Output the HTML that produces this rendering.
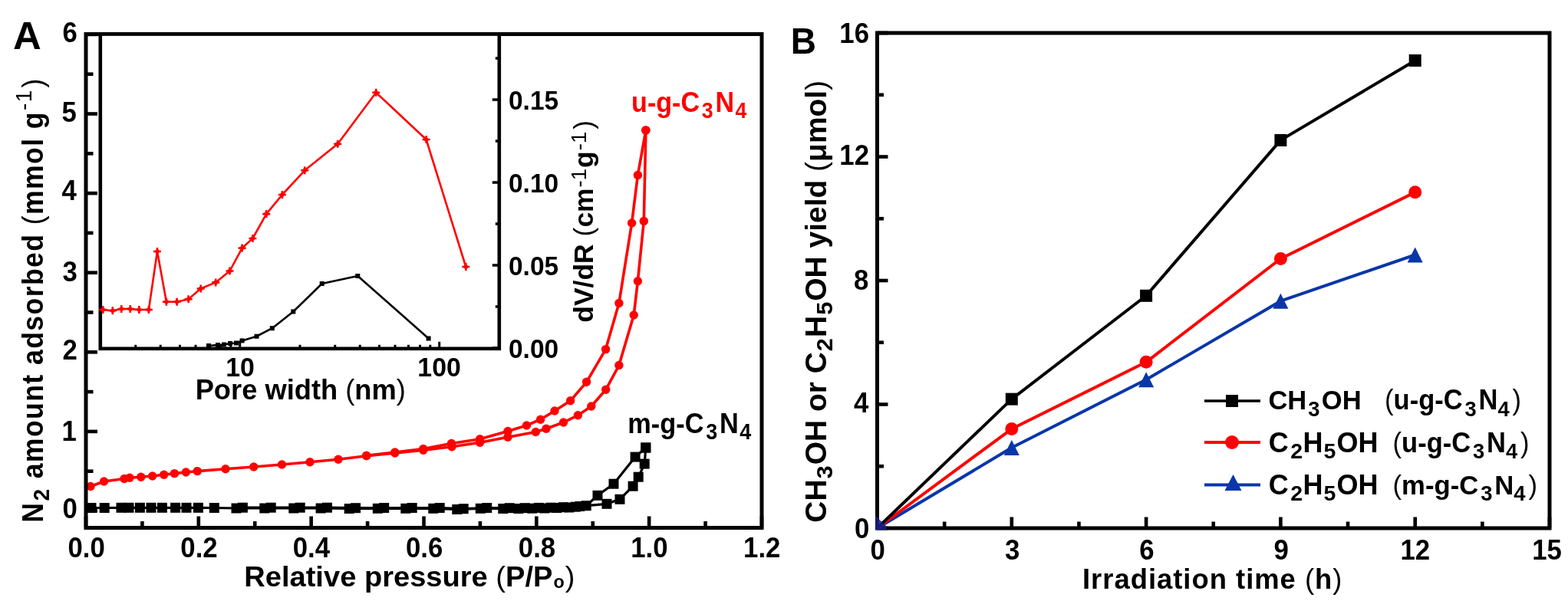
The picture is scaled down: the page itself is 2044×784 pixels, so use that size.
<!DOCTYPE html><html><head><meta charset="utf-8"><title>Figure</title><style>html,body{margin:0;padding:0;background:#fff;width:2044px;height:784px;overflow:hidden}svg{display:block}</style></head><body>
<svg width="2044" height="784" viewBox="0 0 2044 784" font-family='"Liberation Sans", Arial, Helvetica, sans-serif'>
<rect width="2044" height="784" fill="#fff"/>
<polyline points="118,634.5 135.6,628 162,624.5 169,623.3 183.8,622.2 198.7,621 213.7,619.2 227.4,617.6 242.4,616 257.3,614.6 294,611.8 330.8,609 367.5,606 404,602.7 441,599.2 477.7,594.8 514.8,591 551.8,587.2 589,582.8 625.6,577.2 662,570.2 698.3,563.5 712,559.2 734.5,551 753.3,541.8 770.8,530 789.7,508.3 806.9,476.5 826.2,411 831.4,366.8 839.3,288.4 841.9,169.9" fill="none" stroke="#ff0000" stroke-width="3.6" stroke-linejoin="round"/>
<polyline points="841.9,169.9 831.4,228.4 823.6,291 806.9,395.5 789.6,455.6 764.6,498.3 743.6,522.8 723,536 704.6,547.2 686.5,555 662,562.5 625.6,572.8 588.5,578.5 551.8,585.5 514.8,590 477.7,594.2" fill="none" stroke="#ff0000" stroke-width="3.6" stroke-linejoin="round"/>
<circle cx="118" cy="634.5" r="5.7" fill="#ff0000"/>
<circle cx="135.6" cy="628" r="5.7" fill="#ff0000"/>
<circle cx="162" cy="624.5" r="5.7" fill="#ff0000"/>
<circle cx="169" cy="623.3" r="5.7" fill="#ff0000"/>
<circle cx="183.8" cy="622.2" r="5.7" fill="#ff0000"/>
<circle cx="198.7" cy="621" r="5.7" fill="#ff0000"/>
<circle cx="213.7" cy="619.2" r="5.7" fill="#ff0000"/>
<circle cx="227.4" cy="617.6" r="5.7" fill="#ff0000"/>
<circle cx="242.4" cy="616" r="5.7" fill="#ff0000"/>
<circle cx="257.3" cy="614.6" r="5.7" fill="#ff0000"/>
<circle cx="294" cy="611.8" r="5.7" fill="#ff0000"/>
<circle cx="330.8" cy="609" r="5.7" fill="#ff0000"/>
<circle cx="367.5" cy="606" r="5.7" fill="#ff0000"/>
<circle cx="404" cy="602.7" r="5.7" fill="#ff0000"/>
<circle cx="441" cy="599.2" r="5.7" fill="#ff0000"/>
<circle cx="477.7" cy="594.8" r="5.7" fill="#ff0000"/>
<circle cx="514.8" cy="591" r="5.7" fill="#ff0000"/>
<circle cx="551.8" cy="587.2" r="5.7" fill="#ff0000"/>
<circle cx="589" cy="582.8" r="5.7" fill="#ff0000"/>
<circle cx="625.6" cy="577.2" r="5.7" fill="#ff0000"/>
<circle cx="662" cy="570.2" r="5.7" fill="#ff0000"/>
<circle cx="698.3" cy="563.5" r="5.7" fill="#ff0000"/>
<circle cx="712" cy="559.2" r="5.7" fill="#ff0000"/>
<circle cx="734.5" cy="551" r="5.7" fill="#ff0000"/>
<circle cx="753.3" cy="541.8" r="5.7" fill="#ff0000"/>
<circle cx="770.8" cy="530" r="5.7" fill="#ff0000"/>
<circle cx="789.7" cy="508.3" r="5.7" fill="#ff0000"/>
<circle cx="806.9" cy="476.5" r="5.7" fill="#ff0000"/>
<circle cx="826.2" cy="411" r="5.7" fill="#ff0000"/>
<circle cx="831.4" cy="366.8" r="5.7" fill="#ff0000"/>
<circle cx="839.3" cy="288.4" r="5.7" fill="#ff0000"/>
<circle cx="841.9" cy="169.9" r="5.7" fill="#ff0000"/>
<circle cx="841.9" cy="169.9" r="5.7" fill="#ff0000"/>
<circle cx="831.4" cy="228.4" r="5.7" fill="#ff0000"/>
<circle cx="823.6" cy="291" r="5.7" fill="#ff0000"/>
<circle cx="806.9" cy="395.5" r="5.7" fill="#ff0000"/>
<circle cx="789.6" cy="455.6" r="5.7" fill="#ff0000"/>
<circle cx="764.6" cy="498.3" r="5.7" fill="#ff0000"/>
<circle cx="743.6" cy="522.8" r="5.7" fill="#ff0000"/>
<circle cx="723" cy="536" r="5.7" fill="#ff0000"/>
<circle cx="704.6" cy="547.2" r="5.7" fill="#ff0000"/>
<circle cx="686.5" cy="555" r="5.7" fill="#ff0000"/>
<circle cx="662" cy="562.5" r="5.7" fill="#ff0000"/>
<circle cx="625.6" cy="572.8" r="5.7" fill="#ff0000"/>
<circle cx="588.5" cy="578.5" r="5.7" fill="#ff0000"/>
<circle cx="551.8" cy="585.5" r="5.7" fill="#ff0000"/>
<circle cx="514.8" cy="590" r="5.7" fill="#ff0000"/>
<circle cx="477.7" cy="594.2" r="5.7" fill="#ff0000"/>
<polyline points="119,662.5 136.2,662.5 158,662.3 168,662.3 182.4,662.3 197,662.3 211.4,662.3 228.6,662.3 243,662.3 258.4,662.3 279.3,662.5 308,663 344.8,663 382.8,663 418.1,663 455.2,663.5 492.3,663.3 528.8,663.3 564.8,663.3 595.8,664.5 626.3,663.3 655.8,663.5 675.8,663.5 693.8,663.2 709.8,663 725.8,662.5 741.8,662 755.8,660.5 791,657.3 808,651.3 825.1,634.2 832.2,622.2 840.2,605.1 841.8,584" fill="none" stroke="#000" stroke-width="3.2" stroke-linejoin="round"/>
<polyline points="841.8,584 828.1,596.1 800,631.2 779,646.3 764.2,659.7 750.2,661.2 734.2,661.7 718.2,662.2 702.2,662.4 684.2,662.7 664.2,662.7 634.7,662.5 604.2,663.7 573.2,662.5 537.2,662.5 500.7,662.5 463.6,662.7 426.5,662.2 391.2,662.2 353.2,662.2 316.4,662.2" fill="none" stroke="#000" stroke-width="3.2" stroke-linejoin="round"/>
<rect x="112.5" y="656" width="13" height="13" fill="#000"/>
<rect x="129.7" y="656" width="13" height="13" fill="#000"/>
<rect x="151.5" y="655.8" width="13" height="13" fill="#000"/>
<rect x="161.5" y="655.8" width="13" height="13" fill="#000"/>
<rect x="175.9" y="655.8" width="13" height="13" fill="#000"/>
<rect x="190.5" y="655.8" width="13" height="13" fill="#000"/>
<rect x="204.9" y="655.8" width="13" height="13" fill="#000"/>
<rect x="222.1" y="655.8" width="13" height="13" fill="#000"/>
<rect x="236.5" y="655.8" width="13" height="13" fill="#000"/>
<rect x="251.9" y="655.8" width="13" height="13" fill="#000"/>
<rect x="272.8" y="656" width="13" height="13" fill="#000"/>
<rect x="301.5" y="656.5" width="13" height="13" fill="#000"/>
<rect x="338.3" y="656.5" width="13" height="13" fill="#000"/>
<rect x="376.3" y="656.5" width="13" height="13" fill="#000"/>
<rect x="411.6" y="656.5" width="13" height="13" fill="#000"/>
<rect x="448.7" y="657" width="13" height="13" fill="#000"/>
<rect x="485.8" y="656.8" width="13" height="13" fill="#000"/>
<rect x="522.3" y="656.8" width="13" height="13" fill="#000"/>
<rect x="558.3" y="656.8" width="13" height="13" fill="#000"/>
<rect x="589.3" y="658" width="13" height="13" fill="#000"/>
<rect x="619.8" y="656.8" width="13" height="13" fill="#000"/>
<rect x="649.3" y="657" width="13" height="13" fill="#000"/>
<rect x="669.3" y="657" width="13" height="13" fill="#000"/>
<rect x="687.3" y="656.7" width="13" height="13" fill="#000"/>
<rect x="703.3" y="656.5" width="13" height="13" fill="#000"/>
<rect x="719.3" y="656" width="13" height="13" fill="#000"/>
<rect x="735.3" y="655.5" width="13" height="13" fill="#000"/>
<rect x="749.3" y="654" width="13" height="13" fill="#000"/>
<rect x="784.5" y="650.8" width="13" height="13" fill="#000"/>
<rect x="801.5" y="644.8" width="13" height="13" fill="#000"/>
<rect x="818.6" y="627.7" width="13" height="13" fill="#000"/>
<rect x="825.7" y="615.7" width="13" height="13" fill="#000"/>
<rect x="833.7" y="598.6" width="13" height="13" fill="#000"/>
<rect x="835.3" y="577.5" width="13" height="13" fill="#000"/>
<rect x="835.3" y="577.5" width="13" height="13" fill="#000"/>
<rect x="821.6" y="589.6" width="13" height="13" fill="#000"/>
<rect x="793.5" y="624.7" width="13" height="13" fill="#000"/>
<rect x="772.5" y="639.8" width="13" height="13" fill="#000"/>
<rect x="757.7" y="653.2" width="13" height="13" fill="#000"/>
<rect x="743.7" y="654.7" width="13" height="13" fill="#000"/>
<rect x="727.7" y="655.2" width="13" height="13" fill="#000"/>
<rect x="711.7" y="655.7" width="13" height="13" fill="#000"/>
<rect x="695.7" y="655.9" width="13" height="13" fill="#000"/>
<rect x="677.7" y="656.2" width="13" height="13" fill="#000"/>
<rect x="657.7" y="656.2" width="13" height="13" fill="#000"/>
<rect x="628.2" y="656" width="13" height="13" fill="#000"/>
<rect x="597.7" y="657.2" width="13" height="13" fill="#000"/>
<rect x="566.7" y="656" width="13" height="13" fill="#000"/>
<rect x="530.7" y="656" width="13" height="13" fill="#000"/>
<rect x="494.2" y="656" width="13" height="13" fill="#000"/>
<rect x="457.1" y="656.2" width="13" height="13" fill="#000"/>
<rect x="420" y="655.7" width="13" height="13" fill="#000"/>
<rect x="384.7" y="655.7" width="13" height="13" fill="#000"/>
<rect x="346.7" y="655.7" width="13" height="13" fill="#000"/>
<rect x="309.9" y="655.7" width="13" height="13" fill="#000"/>
<rect x="112.0" y="44.5" width="881.0" height="644.0" fill="none" stroke="#000" stroke-width="5"/>
<line x1="112" y1="666.5" x2="127" y2="666.5" stroke="#000" stroke-width="4.6"/>
<line x1="112" y1="562.9" x2="127" y2="562.9" stroke="#000" stroke-width="4.6"/>
<line x1="112" y1="459.3" x2="127" y2="459.3" stroke="#000" stroke-width="4.6"/>
<line x1="112" y1="355.7" x2="127" y2="355.7" stroke="#000" stroke-width="4.6"/>
<line x1="112" y1="252.1" x2="127" y2="252.1" stroke="#000" stroke-width="4.6"/>
<line x1="112" y1="148.5" x2="127" y2="148.5" stroke="#000" stroke-width="4.6"/>
<line x1="112" y1="44.9" x2="127" y2="44.9" stroke="#000" stroke-width="4.6"/>
<line x1="112" y1="614.7" x2="121.5" y2="614.7" stroke="#000" stroke-width="4.6"/>
<line x1="112" y1="511.1" x2="121.5" y2="511.1" stroke="#000" stroke-width="4.6"/>
<line x1="112" y1="407.5" x2="121.5" y2="407.5" stroke="#000" stroke-width="4.6"/>
<line x1="112" y1="303.9" x2="121.5" y2="303.9" stroke="#000" stroke-width="4.6"/>
<line x1="112" y1="200.3" x2="121.5" y2="200.3" stroke="#000" stroke-width="4.6"/>
<line x1="112" y1="96.7" x2="121.5" y2="96.7" stroke="#000" stroke-width="4.6"/>
<line x1="112" y1="688.5" x2="112" y2="673.5" stroke="#000" stroke-width="4.6"/>
<line x1="258.83" y1="688.5" x2="258.83" y2="673.5" stroke="#000" stroke-width="4.6"/>
<line x1="405.67" y1="688.5" x2="405.67" y2="673.5" stroke="#000" stroke-width="4.6"/>
<line x1="552.5" y1="688.5" x2="552.5" y2="673.5" stroke="#000" stroke-width="4.6"/>
<line x1="699.33" y1="688.5" x2="699.33" y2="673.5" stroke="#000" stroke-width="4.6"/>
<line x1="846.17" y1="688.5" x2="846.17" y2="673.5" stroke="#000" stroke-width="4.6"/>
<line x1="993" y1="688.5" x2="993" y2="673.5" stroke="#000" stroke-width="4.6"/>
<line x1="185.42" y1="688.5" x2="185.42" y2="680" stroke="#000" stroke-width="4.6"/>
<line x1="332.25" y1="688.5" x2="332.25" y2="680" stroke="#000" stroke-width="4.6"/>
<line x1="479.08" y1="688.5" x2="479.08" y2="680" stroke="#000" stroke-width="4.6"/>
<line x1="625.92" y1="688.5" x2="625.92" y2="680" stroke="#000" stroke-width="4.6"/>
<line x1="772.75" y1="688.5" x2="772.75" y2="680" stroke="#000" stroke-width="4.6"/>
<line x1="919.58" y1="688.5" x2="919.58" y2="680" stroke="#000" stroke-width="4.6"/>
<rect x="130.8" y="44.5" width="520.0" height="410.3" fill="#fff" stroke="#000" stroke-width="4.6"/>
<polyline points="134.2,404 146.8,405.2 158.3,403 169.8,403 181.3,404 193.9,404 205,328 216.9,393.7 230.6,393.7 245.6,390.2 261.7,376.5 281.2,368.4 299.5,353.5 315.6,323.6 329.4,311 347.2,279.1 367.9,254 397.2,222.3 440.2,187.8 490.2,120.7 555.6,182 607.3,348" fill="none" stroke="#ff0000" stroke-width="2.6" stroke-linejoin="round"/>
<path d="M129.2 404H139.2M134.2 399V409" stroke="#ff0000" stroke-width="2.6"/>
<circle cx="134.2" cy="404" r="2.8" fill="#ff0000"/>
<path d="M141.8 405.2H151.8M146.8 400.2V410.2" stroke="#ff0000" stroke-width="2.6"/>
<circle cx="146.8" cy="405.2" r="2.8" fill="#ff0000"/>
<path d="M153.3 403H163.3M158.3 398V408" stroke="#ff0000" stroke-width="2.6"/>
<circle cx="158.3" cy="403" r="2.8" fill="#ff0000"/>
<path d="M164.8 403H174.8M169.8 398V408" stroke="#ff0000" stroke-width="2.6"/>
<circle cx="169.8" cy="403" r="2.8" fill="#ff0000"/>
<path d="M176.3 404H186.3M181.3 399V409" stroke="#ff0000" stroke-width="2.6"/>
<circle cx="181.3" cy="404" r="2.8" fill="#ff0000"/>
<path d="M188.9 404H198.9M193.9 399V409" stroke="#ff0000" stroke-width="2.6"/>
<circle cx="193.9" cy="404" r="2.8" fill="#ff0000"/>
<path d="M200 328H210M205 323V333" stroke="#ff0000" stroke-width="2.6"/>
<circle cx="205" cy="328" r="2.8" fill="#ff0000"/>
<path d="M211.9 393.7H221.9M216.9 388.7V398.7" stroke="#ff0000" stroke-width="2.6"/>
<circle cx="216.9" cy="393.7" r="2.8" fill="#ff0000"/>
<path d="M225.6 393.7H235.6M230.6 388.7V398.7" stroke="#ff0000" stroke-width="2.6"/>
<circle cx="230.6" cy="393.7" r="2.8" fill="#ff0000"/>
<path d="M240.6 390.2H250.6M245.6 385.2V395.2" stroke="#ff0000" stroke-width="2.6"/>
<circle cx="245.6" cy="390.2" r="2.8" fill="#ff0000"/>
<path d="M256.7 376.5H266.7M261.7 371.5V381.5" stroke="#ff0000" stroke-width="2.6"/>
<circle cx="261.7" cy="376.5" r="2.8" fill="#ff0000"/>
<path d="M276.2 368.4H286.2M281.2 363.4V373.4" stroke="#ff0000" stroke-width="2.6"/>
<circle cx="281.2" cy="368.4" r="2.8" fill="#ff0000"/>
<path d="M294.5 353.5H304.5M299.5 348.5V358.5" stroke="#ff0000" stroke-width="2.6"/>
<circle cx="299.5" cy="353.5" r="2.8" fill="#ff0000"/>
<path d="M310.6 323.6H320.6M315.6 318.6V328.6" stroke="#ff0000" stroke-width="2.6"/>
<circle cx="315.6" cy="323.6" r="2.8" fill="#ff0000"/>
<path d="M324.4 311H334.4M329.4 306V316" stroke="#ff0000" stroke-width="2.6"/>
<circle cx="329.4" cy="311" r="2.8" fill="#ff0000"/>
<path d="M342.2 279.1H352.2M347.2 274.1V284.1" stroke="#ff0000" stroke-width="2.6"/>
<circle cx="347.2" cy="279.1" r="2.8" fill="#ff0000"/>
<path d="M362.9 254H372.9M367.9 249V259" stroke="#ff0000" stroke-width="2.6"/>
<circle cx="367.9" cy="254" r="2.8" fill="#ff0000"/>
<path d="M392.2 222.3H402.2M397.2 217.3V227.3" stroke="#ff0000" stroke-width="2.6"/>
<circle cx="397.2" cy="222.3" r="2.8" fill="#ff0000"/>
<path d="M435.2 187.8H445.2M440.2 182.8V192.8" stroke="#ff0000" stroke-width="2.6"/>
<circle cx="440.2" cy="187.8" r="2.8" fill="#ff0000"/>
<path d="M485.2 120.7H495.2M490.2 115.7V125.7" stroke="#ff0000" stroke-width="2.6"/>
<circle cx="490.2" cy="120.7" r="2.8" fill="#ff0000"/>
<path d="M550.6 182H560.6M555.6 177V187" stroke="#ff0000" stroke-width="2.6"/>
<circle cx="555.6" cy="182" r="2.8" fill="#ff0000"/>
<path d="M602.3 348H612.3M607.3 343V353" stroke="#ff0000" stroke-width="2.6"/>
<circle cx="607.3" cy="348" r="2.8" fill="#ff0000"/>
<polyline points="272,451 284,450 292,449.5 300,448 308,447.5 315.6,444.4 334.5,438.75 354.8,428.2 382.3,406.5 419.7,370 466.3,360 558.6,441.5" fill="none" stroke="#000" stroke-width="2.6" stroke-linejoin="round"/>
<rect x="269" y="448" width="6" height="6" fill="#000"/>
<rect x="281" y="447" width="6" height="6" fill="#000"/>
<rect x="289" y="446.5" width="6" height="6" fill="#000"/>
<rect x="297" y="445" width="6" height="6" fill="#000"/>
<rect x="305" y="444.5" width="6" height="6" fill="#000"/>
<rect x="312.6" y="441.4" width="6" height="6" fill="#000"/>
<rect x="331.5" y="435.75" width="6" height="6" fill="#000"/>
<rect x="351.8" y="425.2" width="6" height="6" fill="#000"/>
<rect x="379.3" y="403.5" width="6" height="6" fill="#000"/>
<rect x="416.7" y="367" width="6" height="6" fill="#000"/>
<rect x="463.3" y="357" width="6" height="6" fill="#000"/>
<rect x="555.6" y="438.5" width="6" height="6" fill="#000"/>
<line x1="130.97" y1="454.8" x2="130.97" y2="449.8" stroke="#000" stroke-width="3"/>
<line x1="176.75" y1="454.8" x2="176.75" y2="449.8" stroke="#000" stroke-width="3"/>
<line x1="209.24" y1="454.8" x2="209.24" y2="449.8" stroke="#000" stroke-width="3"/>
<line x1="234.43" y1="454.8" x2="234.43" y2="449.8" stroke="#000" stroke-width="3"/>
<line x1="255.02" y1="454.8" x2="255.02" y2="449.8" stroke="#000" stroke-width="3"/>
<line x1="272.43" y1="454.8" x2="272.43" y2="449.8" stroke="#000" stroke-width="3"/>
<line x1="287.5" y1="454.8" x2="287.5" y2="449.8" stroke="#000" stroke-width="3"/>
<line x1="300.8" y1="454.8" x2="300.8" y2="449.8" stroke="#000" stroke-width="3"/>
<line x1="312.7" y1="454.8" x2="312.7" y2="445.8" stroke="#000" stroke-width="3"/>
<line x1="390.97" y1="454.8" x2="390.97" y2="449.8" stroke="#000" stroke-width="3"/>
<line x1="436.75" y1="454.8" x2="436.75" y2="449.8" stroke="#000" stroke-width="3"/>
<line x1="469.24" y1="454.8" x2="469.24" y2="449.8" stroke="#000" stroke-width="3"/>
<line x1="494.43" y1="454.8" x2="494.43" y2="449.8" stroke="#000" stroke-width="3"/>
<line x1="515.02" y1="454.8" x2="515.02" y2="449.8" stroke="#000" stroke-width="3"/>
<line x1="532.43" y1="454.8" x2="532.43" y2="449.8" stroke="#000" stroke-width="3"/>
<line x1="547.5" y1="454.8" x2="547.5" y2="449.8" stroke="#000" stroke-width="3"/>
<line x1="560.8" y1="454.8" x2="560.8" y2="449.8" stroke="#000" stroke-width="3"/>
<line x1="572.7" y1="454.8" x2="572.7" y2="445.8" stroke="#000" stroke-width="3"/>
<line x1="650.97" y1="454.8" x2="650.97" y2="449.8" stroke="#000" stroke-width="3"/>
<line x1="650.8" y1="454" x2="641.8" y2="454" stroke="#000" stroke-width="3.5"/>
<line x1="650.8" y1="346" x2="641.8" y2="346" stroke="#000" stroke-width="3.5"/>
<line x1="650.8" y1="238" x2="641.8" y2="238" stroke="#000" stroke-width="3.5"/>
<line x1="650.8" y1="130" x2="641.8" y2="130" stroke="#000" stroke-width="3.5"/>
<line x1="650.8" y1="400" x2="645.8" y2="400" stroke="#000" stroke-width="3.5"/>
<line x1="650.8" y1="292" x2="645.8" y2="292" stroke="#000" stroke-width="3.5"/>
<line x1="650.8" y1="184" x2="645.8" y2="184" stroke="#000" stroke-width="3.5"/>
<line x1="650.8" y1="76" x2="645.8" y2="76" stroke="#000" stroke-width="3.5"/>
<rect x="1143.5" y="43.0" width="876.5" height="646.0" fill="none" stroke="#000" stroke-width="5"/>
<line x1="1143.5" y1="689" x2="1157.5" y2="689" stroke="#000" stroke-width="4.6"/>
<line x1="1143.5" y1="608.25" x2="1152" y2="608.25" stroke="#000" stroke-width="4.6"/>
<line x1="1143.5" y1="527.5" x2="1157.5" y2="527.5" stroke="#000" stroke-width="4.6"/>
<line x1="1143.5" y1="446.75" x2="1152" y2="446.75" stroke="#000" stroke-width="4.6"/>
<line x1="1143.5" y1="366" x2="1157.5" y2="366" stroke="#000" stroke-width="4.6"/>
<line x1="1143.5" y1="285.25" x2="1152" y2="285.25" stroke="#000" stroke-width="4.6"/>
<line x1="1143.5" y1="204.5" x2="1157.5" y2="204.5" stroke="#000" stroke-width="4.6"/>
<line x1="1143.5" y1="123.75" x2="1152" y2="123.75" stroke="#000" stroke-width="4.6"/>
<line x1="1143.5" y1="43" x2="1157.5" y2="43" stroke="#000" stroke-width="4.6"/>
<line x1="1143.5" y1="689" x2="1143.5" y2="674.5" stroke="#000" stroke-width="4.6"/>
<line x1="1231.15" y1="689" x2="1231.15" y2="680.5" stroke="#000" stroke-width="4.6"/>
<line x1="1318.8" y1="689" x2="1318.8" y2="674.5" stroke="#000" stroke-width="4.6"/>
<line x1="1406.45" y1="689" x2="1406.45" y2="680.5" stroke="#000" stroke-width="4.6"/>
<line x1="1494.1" y1="689" x2="1494.1" y2="674.5" stroke="#000" stroke-width="4.6"/>
<line x1="1581.75" y1="689" x2="1581.75" y2="680.5" stroke="#000" stroke-width="4.6"/>
<line x1="1669.4" y1="689" x2="1669.4" y2="674.5" stroke="#000" stroke-width="4.6"/>
<line x1="1757.05" y1="689" x2="1757.05" y2="680.5" stroke="#000" stroke-width="4.6"/>
<line x1="1844.7" y1="689" x2="1844.7" y2="674.5" stroke="#000" stroke-width="4.6"/>
<line x1="1932.35" y1="689" x2="1932.35" y2="680.5" stroke="#000" stroke-width="4.6"/>
<line x1="2020" y1="689" x2="2020" y2="674.5" stroke="#000" stroke-width="4.6"/>
<polyline points="1143.5,689 1318.8,584.02 1494.1,495.2 1669.4,392.65 1844.7,332.49" fill="none" stroke="#0a36a8" stroke-width="4" stroke-linejoin="round"/>
<polyline points="1143.5,689 1318.8,559.52 1494.1,472.31 1669.4,337.5 1844.7,250.81" fill="none" stroke="#ff0000" stroke-width="4" stroke-linejoin="round"/>
<polyline points="1143.5,689 1318.8,520.64 1494.1,385.78 1669.4,182.9 1844.7,78.93" fill="none" stroke="#000" stroke-width="4" stroke-linejoin="round"/>
<polygon points="1141.3,672 1145.7,677 1155.5,686.8 1155.5,691.2 1141.3,691.2" fill="#1a1e8a" opacity="0.85"/>
<polygon points="1318.8,574.02 1328.8,594.02 1308.8,594.02" fill="#0a36a8"/>
<polygon points="1494.1,485.2 1504.1,505.2 1484.1,505.2" fill="#0a36a8"/>
<polygon points="1669.4,382.65 1679.4,402.65 1659.4,402.65" fill="#0a36a8"/>
<polygon points="1844.7,322.49 1854.7,342.49 1834.7,342.49" fill="#0a36a8"/>
<circle cx="1318.8" cy="559.52" r="8.5" fill="#ff0000"/>
<circle cx="1494.1" cy="472.31" r="8.5" fill="#ff0000"/>
<circle cx="1669.4" cy="337.5" r="8.5" fill="#ff0000"/>
<circle cx="1844.7" cy="250.81" r="8.5" fill="#ff0000"/>
<rect x="1310.8" y="512.64" width="16" height="16" fill="#000"/>
<rect x="1486.1" y="377.78" width="16" height="16" fill="#000"/>
<rect x="1661.4" y="174.9" width="16" height="16" fill="#000"/>
<rect x="1836.7" y="70.93" width="16" height="16" fill="#000"/>
<line x1="1570" y1="523" x2="1643" y2="523" stroke="#000" stroke-width="3.5"/>
<rect x="1598" y="515" width="16" height="16" fill="#000"/>
<line x1="1570" y1="577" x2="1643" y2="577" stroke="#ff0000" stroke-width="4"/>
<circle cx="1606" cy="577" r="9" fill="#ff0000"/>
<line x1="1570" y1="632.5" x2="1643" y2="632.5" stroke="#0a36a8" stroke-width="4"/>
<polygon points="1607.5,619 1618.5,640 1596.5,640" fill="#0a36a8"/>
<text font-size="50" font-weight="bold" fill="#000" transform="translate(16.88,63.7) scale(1.0176,0.9886)">A</text>
<text font-size="37" font-weight="bold" fill="#000" transform="translate(81.44,675.7) scale(0.9400,1.0000)">0</text>
<text font-size="37" font-weight="bold" fill="#000" transform="translate(80.5,574.9) scale(0.9400,1.0000)">1</text>
<text font-size="37" font-weight="bold" fill="#000" transform="translate(81.44,469.3) scale(0.9400,1.0000)">2</text>
<text font-size="37" font-weight="bold" fill="#000" transform="translate(81.44,366.9) scale(0.9400,1.0000)">3</text>
<text font-size="37" font-weight="bold" fill="#000" transform="translate(80.5,261.2) scale(0.9400,1.0000)">4</text>
<text font-size="37" font-weight="bold" fill="#000" transform="translate(80.5,158.7) scale(0.9400,1.0000)">5</text>
<text font-size="37" font-weight="bold" fill="#000" transform="translate(81.44,55.2) scale(0.9400,1.0000)">6</text>
<text font-size="37" font-weight="bold" fill="#000" transform="translate(88.53,727.4) scale(0.9400,1.0000)">0.0</text>
<text font-size="37" font-weight="bold" fill="#000" transform="translate(235.36,727.4) scale(0.9400,1.0000)">0.2</text>
<text font-size="37" font-weight="bold" fill="#000" transform="translate(381.73,727.4) scale(0.9400,1.0000)">0.4</text>
<text font-size="37" font-weight="bold" fill="#000" transform="translate(529.03,727.4) scale(0.9400,1.0000)">0.6</text>
<text font-size="37" font-weight="bold" fill="#000" transform="translate(675.86,727.4) scale(0.9400,1.0000)">0.8</text>
<text font-size="37" font-weight="bold" fill="#000" transform="translate(822.23,727.4) scale(0.9400,1.0000)">1.0</text>
<text font-size="37" font-weight="bold" fill="#000" transform="translate(969.06,727.4) scale(0.9400,1.0000)">1.2</text>
<text font-size="37.5" font-weight="bold" fill="#000" transform="translate(318.27,765.3) scale(1.0157,1.0000)">Relative pressure <tspan font-weight="normal">(</tspan>P/P<tspan font-size="23" dx="1" dy="2">o</tspan><tspan dx="1" dy="-2"><tspan font-weight="normal">)</tspan></tspan></text>
<text font-size="38" font-weight="bold" fill="#000" transform="translate(56.4,681.67) rotate(-90) scale(0.9370,1.0000)"><tspan letter-spacing="1.5">N<tspan font-size="30" dx="1" dy="7.3">2</tspan><tspan dx="1" dy="-7.3"> amount adsorbed <tspan font-weight="normal">(</tspan>mmol g</tspan><tspan font-size="30" dx="1" dy="-15" font-weight="normal">-1</tspan><tspan dx="2" dy="15"><tspan font-weight="normal">)</tspan></tspan></tspan></text>
<text font-size="37" font-weight="bold" fill="#ff0000" transform="translate(823.06,146.4) scale(0.9224,1.0000)">u-g-C<tspan font-size="29" dx="3" dy="8">3</tspan><tspan dx="3" dy="-8">N</tspan><tspan font-size="29" dx="1.5" dy="8">4</tspan></text>
<text font-size="37" font-weight="bold" fill="#000" transform="translate(818.24,564.6) scale(0.9287,1.0000)">m-g-C<tspan font-size="29" dx="3" dy="8">3</tspan><tspan dx="3" dy="-8">N</tspan><tspan font-size="29" dx="1.5" dy="8">4</tspan></text>
<text font-size="36" font-weight="bold" fill="#000" transform="translate(662.97,467) scale(0.9300,1.0000)">0.00</text>
<text font-size="36" font-weight="bold" fill="#000" transform="translate(662.97,359) scale(0.9300,1.0000)">0.05</text>
<text font-size="36" font-weight="bold" fill="#000" transform="translate(662.97,251) scale(0.9300,1.0000)">0.10</text>
<text font-size="36" font-weight="bold" fill="#000" transform="translate(662.97,143) scale(0.9300,1.0000)">0.15</text>
<text font-size="36" font-weight="bold" fill="#000" transform="translate(294.23,491.4) scale(0.9400,1.0000)">10</text>
<text font-size="36" font-weight="bold" fill="#000" transform="translate(544.33,491.4) scale(0.9400,1.0000)">100</text>
<text font-size="37" font-weight="bold" fill="#000" transform="translate(254.64,521) scale(0.9811,1.0000)">Pore width <tspan font-weight="normal">(</tspan>nm<tspan font-weight="normal">)</tspan></text>
<text font-size="36" font-weight="bold" fill="#000" transform="translate(773.2,420.68) rotate(-90) scale(0.9849,1.0000)">dV/dR <tspan font-weight="normal">(</tspan>cm<tspan font-size="28" dx="1" dy="-9" font-weight="normal">-1</tspan><tspan dx="1" dy="9">g</tspan><tspan font-size="28" dx="1" dy="-9" font-weight="normal">-1</tspan><tspan dx="3" dy="9"><tspan font-weight="normal">)</tspan></tspan></text>
<text font-size="50" font-weight="bold" fill="#000" transform="translate(1030.74,70.3) scale(0.9194,0.9800)">B</text>
<text font-size="37" font-weight="bold" fill="#000" transform="translate(1114.04,701.5) scale(0.9400,1.0000)">0</text>
<text font-size="37" font-weight="bold" fill="#000" transform="translate(1113.1,537.9) scale(0.9400,1.0000)">4</text>
<text font-size="37" font-weight="bold" fill="#000" transform="translate(1113.1,377.9) scale(0.9400,1.0000)">8</text>
<text font-size="37" font-weight="bold" fill="#000" transform="translate(1094.3,214.5) scale(0.9400,1.0000)">12</text>
<text font-size="37" font-weight="bold" fill="#000" transform="translate(1094.3,56) scale(0.9400,1.0000)">16</text>
<text font-size="37" font-weight="bold" fill="#000" transform="translate(1134.6,729.5) scale(0.9400,1.0000)">0</text>
<text font-size="37" font-weight="bold" fill="#000" transform="translate(1309.9,729.5) scale(0.9400,1.0000)">3</text>
<text font-size="37" font-weight="bold" fill="#000" transform="translate(1485.2,729.5) scale(0.9400,1.0000)">6</text>
<text font-size="37" font-weight="bold" fill="#000" transform="translate(1660.5,729.5) scale(0.9400,1.0000)">9</text>
<text font-size="37" font-weight="bold" fill="#000" transform="translate(1825.46,729.5) scale(0.9400,1.0000)">12</text>
<text font-size="37" font-weight="bold" fill="#000" transform="translate(1997.26,729.5) scale(0.9400,1.0000)">15</text>
<text font-size="36.5" font-weight="bold" fill="#000" transform="translate(1411,767.6) scale(0.9976,1.0000)"><tspan letter-spacing="1.0">Irradiation time <tspan font-weight="normal">(</tspan>h<tspan font-weight="normal">)</tspan></tspan></text>
<text font-size="38" font-weight="bold" fill="#000" transform="translate(1077.2,681.73) rotate(-90) scale(1.0252,1.0000)">CH<tspan font-size="30" dx="1" dy="8">3</tspan><tspan dx="1" dy="-8">OH or C</tspan><tspan font-size="30" dx="1" dy="8">2</tspan><tspan dx="1" dy="-8">H</tspan><tspan font-size="30" dx="1" dy="8">5</tspan><tspan dx="1" dy="-8">OH yield <tspan font-weight="normal">(</tspan>μmol<tspan font-weight="normal">)</tspan></tspan></text>
<text font-size="36" font-weight="bold" fill="#000" transform="translate(1653.44,534.2) scale(0.9593,1.0000)">CH<tspan font-size="28.5" dx="2" dy="8.4">3</tspan><tspan dx="2.5" dy="-8.4">OH</tspan></text>
<text font-size="36" font-weight="bold" fill="#000" transform="translate(1805.08,534.2) scale(0.9582,1.0000)"><tspan font-weight="normal">(</tspan>u-g-C<tspan font-size="28.5" dx="3" dy="8.4">3</tspan><tspan dx="3" dy="-8.4">N</tspan><tspan font-size="28.5" dx="0" dy="8.4">4</tspan><tspan dx="4" dy="-8.4"><tspan font-weight="normal">)</tspan></tspan></text>
<text font-size="36" font-weight="bold" fill="#000" transform="translate(1653.7,589.6) scale(1.0000,1.0000)">C<tspan font-size="28.5" dx="2.5" dy="8.4">2</tspan><tspan dx="0.5" dy="-8.4">H</tspan><tspan font-size="28.5" dx="1" dy="8.4">5</tspan><tspan dx="1" dy="-8.4">OH</tspan></text>
<text font-size="36" font-weight="bold" fill="#000" transform="translate(1815.58,589.6) scale(0.9582,1.0000)"><tspan font-weight="normal">(</tspan>u-g-C<tspan font-size="28.5" dx="3" dy="8.4">3</tspan><tspan dx="3" dy="-8.4">N</tspan><tspan font-size="28.5" dx="0" dy="8.4">4</tspan><tspan dx="4" dy="-8.4"><tspan font-weight="normal">)</tspan></tspan></text>
<text font-size="36" font-weight="bold" fill="#000" transform="translate(1653.7,645) scale(1.0000,1.0000)">C<tspan font-size="28.5" dx="2.5" dy="8.4">2</tspan><tspan dx="0.5" dy="-8.4">H</tspan><tspan font-size="28.5" dx="1" dy="8.4">5</tspan><tspan dx="1" dy="-8.4">OH</tspan></text>
<text font-size="36" font-weight="bold" fill="#000" transform="translate(1815.57,645) scale(0.9635,1.0000)"><tspan font-weight="normal">(</tspan>m-g-C<tspan font-size="28.5" dx="3" dy="8.4">3</tspan><tspan dx="3" dy="-8.4">N</tspan><tspan font-size="28.5" dx="0" dy="8.4">4</tspan><tspan dx="4" dy="-8.4"><tspan font-weight="normal">)</tspan></tspan></text>
</svg></body></html>
